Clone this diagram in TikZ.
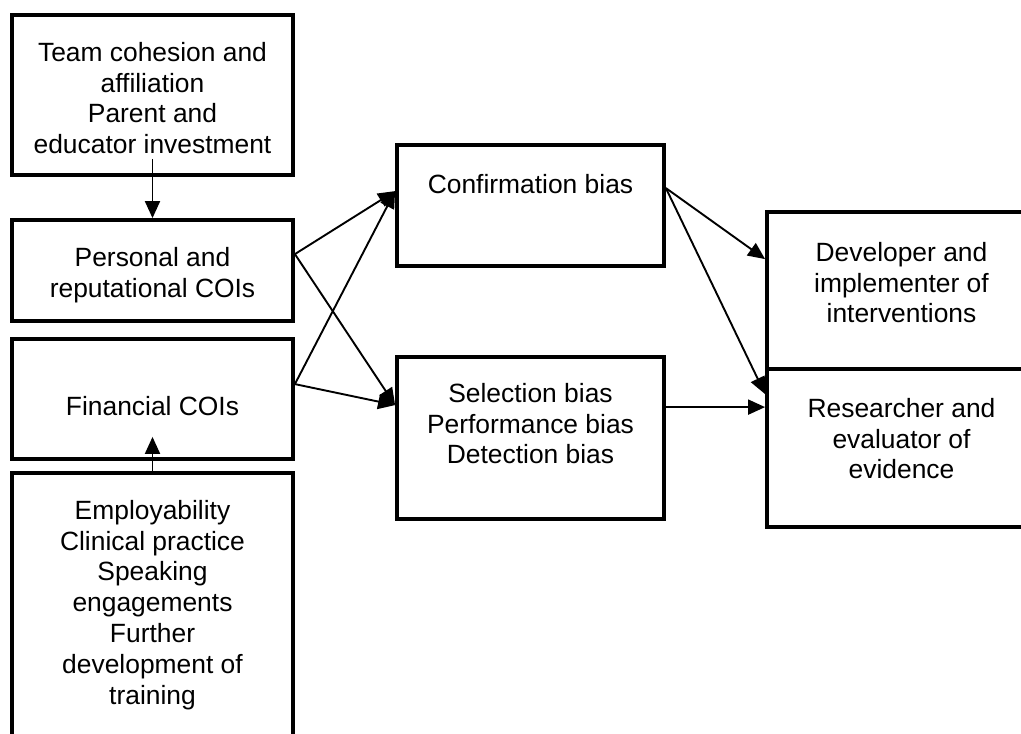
\documentclass[tikz,border=0pt]{standalone}
\usepackage{fontspec}
\setmainfont{Liberation Sans}
\usetikzlibrary{arrows.meta,calc}

\tikzset{
  boxnode/.style={draw=black, line width=3.8pt, rectangle, inner sep=0pt, fill=white},
  label text/.style={anchor=north, align=center, inner sep=0pt,
    font=\fontsize{26.4}{30.8}\selectfont},
  link/.style={draw=black, line width=1.9pt,
    -{Triangle[length=17pt,width=15pt]}},
}

\begin{document}
\begin{tikzpicture}[x=1pt,y=-1pt]
\useasboundingbox (0,0) rectangle (1021,734);
\fill[white] (0,0) rectangle (1021,734);
\clip (0,0) rectangle (1021,734);

% left column: sources of conflicts of interest
\node[boxnode, minimum width=281pt, minimum height=160pt] (b1) at (152.5,95) {};
\node[boxnode, minimum width=281pt, minimum height=101pt] (b2) at (152.5,270.5) {};
\node[boxnode, minimum width=281pt, minimum height=120pt] (b3) at (152.5,399) {};
\node[boxnode, minimum width=281pt, minimum height=287pt] (b4) at (152.5,616.5) {};

% middle column: biases
\node[boxnode, minimum width=267pt, minimum height=121pt] (conf) at (530.5,205.5) {};
\node[boxnode, minimum width=267pt, minimum height=162pt] (sel) at (530.5,438) {};

% right column: roles
\node[boxnode, minimum width=269pt, minimum height=157pt] (dev) at (901.5,290.5) {};
\node[boxnode, minimum width=269pt, minimum height=158pt] (res) at (901.5,448) {};

% texts
\node[label text] (t1) at (152.5,42) {Team cohesion and\\affiliation\\Parent and\\educator investment};
\node[label text] (t2) at (152.5,247) {Personal and\\reputational COIs};
\node[label text] (t3) at (152.5,396) {Financial COIs};
\node[label text] (t4) at (152.5,500) {Employability\\Clinical practice\\Speaking\\engagements\\Further\\development of\\training};
\node[label text] (conft) at (530.5,174) {Confirmation bias};
\node[label text] (selt) at (530.5,383) {Selection bias\\Performance bias\\Detection bias};
\node[label text] (devt) at (901.5,242) {Developer and\\implementer of\\interventions};
\node[label text] (rest) at (901.5,398) {Researcher and\\evaluator of\\evidence};

% attachment points on the box sides
\coordinate (b1s) at ($(b1.south)+(0,-18)$);
\coordinate (b3s) at ($(b3.south)+(0,-24)$);
\coordinate (b2o) at ($(b2.north east)+(0,36)$);
\coordinate (b3o) at ($(b3.north east)+(0,47)$);
\coordinate (confi) at ($(conf.north west)+(0,48)$);
\coordinate (seli) at ($(sel.north west)+(0,50)$);
\coordinate (confo) at ($(conf.north east)+(0,45)$);
\coordinate (selo) at ($(sel.north east)+(0,52)$);
\coordinate (devi) at ($(dev.north west)+(0,49)$);
\coordinate (resi) at ($(res.north west)+(0,27)$);
\coordinate (resh) at ($(res.north west)+(0,40)$);

% connectors
\draw[link] (b1s) -- (b2.north);
\draw[link] (b4.north) -- (b3s);
\draw[link] (b2o) -- (confi);
\draw[link] (b2o) -- (seli);
\draw[link] (b3o) -- (confi);
\draw[link] (b3o) -- (seli);
\draw[link] (confo) -- (devi);
\draw[link] (confo) -- (resi);
\draw[link] (selo) -- (resh);
\end{tikzpicture}
\end{document}
